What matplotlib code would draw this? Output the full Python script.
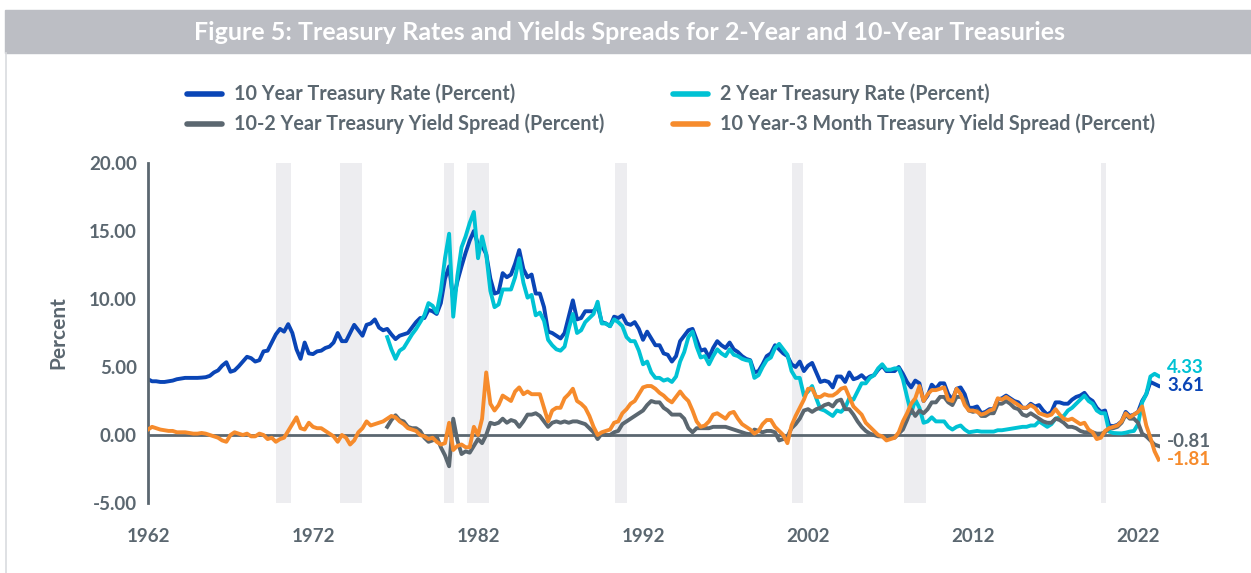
import numpy as np
import pandas as pd
import matplotlib
matplotlib.use('Agg')
import matplotlib.pyplot as plt
from matplotlib.lines import Line2D
from matplotlib.patches import Rectangle

plt.rcParams['font.family'] = ['Lato', 'DejaVu Sans']

# quarterly readings (start of each quarter)
start_long = '1962-01-01'
start_2y = '1976-07-01'

rate_10y = [
    4.10, 3.95, 3.95, 3.90,  # 1962
    3.90, 3.95, 4.00, 4.10,
    4.15, 4.20, 4.20, 4.20,
    4.20, 4.22, 4.25, 4.35,
    4.60, 4.75, 5.10, 5.35,
    4.65, 4.75, 5.05, 5.40,
    5.75, 5.65, 5.40, 5.50,
    6.15, 6.20, 6.80, 7.40,
    7.80, 7.60, 8.15, 7.50,  # 1970
    6.30, 5.60, 6.80, 6.00,
    5.95, 6.15, 6.20, 6.40,
    6.50, 6.80, 7.50, 6.90,
    6.90, 7.50, 8.10, 7.70,
    7.30, 8.10, 8.20, 8.50,
    7.90, 7.70, 7.80, 7.40,
    7.05, 7.30, 7.40, 7.50,
    7.90, 8.30, 8.60, 8.60,
    9.20, 9.10, 8.90, 9.70,
    11.5, 12.4, 9.90, 11.3,  # 1980
    12.4, 13.4, 14.3, 15.0,
    14.0, 13.9, 13.3, 11.5,
    10.4, 10.5, 11.9, 11.6,
    11.8, 12.6, 13.6, 12.2,
    11.6, 11.8, 10.4, 10.4,
    9.40, 7.60, 7.50, 7.30,
    7.10, 7.50, 8.70, 9.90,
    8.50, 8.60, 9.10, 9.10,
    9.10, 9.50, 8.30, 8.20,
    8.00, 8.70, 8.60, 8.80,  # 1990
    8.20, 8.10, 8.30, 7.80,
    7.00, 7.60, 7.10, 6.60,
    6.60, 6.00, 5.90, 5.40,
    5.80, 6.90, 7.30, 7.70,
    7.80, 7.00, 6.20, 6.30,
    5.70, 6.40, 6.90, 6.60,
    6.40, 6.80, 6.30, 6.10,
    5.80, 5.60, 5.50, 4.60,
    4.70, 5.20, 5.80, 6.00,
    6.60, 6.30, 6.00, 5.80,  # 2000
    5.20, 5.00, 5.40, 4.70,
    5.10, 5.30, 4.60, 3.90,
    4.00, 3.90, 3.50, 4.30,
    4.30, 3.90, 4.60, 4.10,
    4.20, 4.40, 4.10, 4.30,
    4.40, 4.80, 5.10, 4.70,
    4.70, 4.70, 5.00, 4.50,
    3.90, 3.50, 4.00, 3.80,
    2.50, 2.90, 3.70, 3.40,
    3.80, 3.80, 3.00, 2.60,  # 2010
    3.40, 3.50, 3.00, 2.00,
    2.00, 2.10, 1.60, 1.70,
    1.90, 1.90, 2.60, 2.70,
    2.90, 2.70, 2.50, 2.40,
    2.00, 2.00, 2.30, 2.10,
    2.20, 1.80, 1.50, 1.70,
    2.40, 2.40, 2.30, 2.30,
    2.60, 2.80, 2.90, 3.10,
    2.70, 2.50, 2.00, 1.70,
    1.80, 0.70, 0.65, 0.75,  # 2020
    1.00, 1.70, 1.40, 1.50,
    1.70, 2.50, 3.00, 3.90,
    3.75, 3.61,
]

rate_2y = [
    7.20, 6.30,  # 1976
    5.60, 6.20, 6.40, 6.90,
    7.40, 7.80, 8.30, 8.80,
    9.70, 9.50, 9.00, 10.6,
    13.0, 14.8, 8.70, 11.7,  # 1980
    13.8, 14.6, 15.6, 16.4,
    13.0, 14.6, 13.3, 10.6,
    9.40, 9.60, 10.7, 10.7,
    10.7, 11.6, 13.0, 11.2,
    10.1, 10.3, 8.80, 9.00,
    8.40, 7.00, 6.60, 6.30,
    6.20, 6.50, 7.80, 8.90,
    7.50, 7.70, 8.30, 8.60,
    8.90, 9.80, 8.20, 8.20,
    8.00, 8.50, 8.30, 8.00,  # 1990
    7.20, 6.90, 6.90, 6.20,
    5.20, 5.40, 4.60, 4.20,
    4.20, 4.00, 4.10, 3.90,
    4.30, 5.40, 6.10, 7.20,
    7.60, 6.50, 5.70, 5.80,
    5.20, 5.80, 6.30, 6.00,
    5.80, 6.30, 5.90, 5.80,
    5.60, 5.50, 5.45, 4.20,
    4.40, 5.00, 5.50, 5.70,
    6.40, 6.70, 6.30, 5.90,  # 2000
    4.70, 4.20, 4.20, 2.90,
    3.20, 3.60, 2.70, 1.90,
    1.80, 1.60, 1.40, 1.80,
    1.70, 2.00, 2.70, 2.60,
    3.20, 3.80, 3.80, 4.20,
    4.40, 4.90, 5.20, 4.80,
    4.80, 4.90, 4.90, 4.10,
    2.80, 1.60, 2.60, 2.00,
    0.90, 1.00, 1.30, 1.00,
    1.00, 1.00, 0.60, 0.40,  # 2010
    0.60, 0.70, 0.40, 0.20,
    0.25, 0.30, 0.25, 0.25,
    0.25, 0.25, 0.35, 0.35,
    0.40, 0.45, 0.50, 0.55,
    0.60, 0.60, 0.70, 0.70,
    1.00, 0.80, 0.60, 0.80,
    1.20, 1.30, 1.40, 1.80,
    2.00, 2.30, 2.60, 2.90,
    2.50, 2.30, 1.80, 1.60,
    1.60, 0.25, 0.15, 0.13,  # 2020
    0.12, 0.17, 0.25, 0.30,
    0.80, 2.40, 3.00, 4.30,
    4.50, 4.33,
]

spread_10_2 = [
    0.60, 1.10,  # 1976
    1.45, 1.10, 1.00, 0.60,
    0.50, 0.50, 0.30, -0.20,
    -0.50, -0.40, -0.10, -0.90,
    -1.50, -2.30, 1.20, -0.40,  # 1980
    -1.40, -1.20, -1.30, -0.80,
    -0.30, -0.60, 0.00, 0.90,
    0.80, 0.90, 1.20, 0.90,
    1.10, 1.00, 0.60, 1.00,
    1.50, 1.50, 1.60, 1.40,
    1.00, 0.60, 0.90, 1.00,
    0.90, 1.00, 0.90, 1.00,
    1.00, 0.90, 0.80, 0.50,
    0.20, -0.30, 0.10, 0.00,
    0.00, 0.20, 0.30, 0.80,  # 1990
    1.00, 1.20, 1.40, 1.60,
    1.80, 2.20, 2.50, 2.40,
    2.40, 2.00, 1.80, 1.50,
    1.50, 1.50, 1.20, 0.50,
    0.20, 0.50, 0.50, 0.50,
    0.50, 0.60, 0.60, 0.60,
    0.60, 0.50, 0.40, 0.30,
    0.20, 0.10, 0.05, 0.40,
    0.30, 0.20, 0.30, 0.30,
    0.20, -0.40, -0.30, -0.10,  # 2000
    0.50, 0.80, 1.20, 1.80,
    1.90, 1.70, 1.90, 2.00,
    2.20, 2.30, 2.10, 2.50,
    2.60, 1.90, 1.90, 1.50,
    1.00, 0.60, 0.30, 0.10,
    0.00, -0.10, -0.10, -0.10,
    -0.10, -0.20, 0.10, 0.40,
    1.10, 1.90, 1.40, 1.80,
    1.60, 1.90, 2.40, 2.40,
    2.80, 2.80, 2.40, 2.20,  # 2010
    2.80, 2.80, 2.60, 1.80,
    1.70, 1.80, 1.40, 1.40,
    1.60, 1.60, 2.30, 2.30,
    2.50, 2.30, 2.00, 1.90,
    1.50, 1.40, 1.60, 1.40,
    1.20, 1.00, 0.90, 0.90,
    1.20, 1.10, 0.90, 0.60,
    0.60, 0.50, 0.30, 0.20,
    0.20, 0.20, 0.10, 0.10,
    0.20, 0.50, 0.50, 0.60,  # 2020
    0.90, 1.50, 1.20, 1.20,
    0.90, 0.10, -0.10, -0.40,
    -0.70, -0.81,
]

spread_10_3m = [
    0.40, 0.60, 0.50, 0.40,  # 1962
    0.35, 0.30, 0.30, 0.20,
    0.20, 0.20, 0.15, 0.10,
    0.10, 0.15, 0.10, 0.00,
    -0.10, -0.20, -0.40, -0.50,
    0.00, 0.20, 0.10, 0.00,
    0.10, -0.10, -0.10, 0.10,
    0.00, -0.30, -0.20, -0.50,
    -0.30, -0.20, 0.30, 0.80,  # 1970
    1.30, 0.50, 0.40, 0.90,
    0.60, 0.50, 0.50, 0.30,
    0.10, -0.10, -0.50, 0.00,
    -0.20, -0.70, -0.40, 0.20,
    0.50, 1.00, 0.70, 0.80,
    0.90, 1.00, 1.20, 1.40,
    1.30, 1.00, 0.80, 0.50,
    0.40, 0.30, 0.00, -0.10,
    -0.30, -0.20, -0.50, -0.70,
    -0.60, 0.90, -1.10, -0.80,  # 1980
    -0.70, -0.90, -0.90, 0.60,
    0.00, 1.20, 4.60, 2.30,
    1.80, 2.20, 2.90, 2.70,
    2.50, 3.20, 3.50, 3.00,
    3.20, 3.00, 3.00, 3.00,
    2.00, 1.00, 1.80, 2.00,
    2.00, 2.70, 3.00, 3.40,
    2.50, 2.30, 2.00, 1.40,
    0.60, 0.00, 0.20, 0.30,
    0.40, 0.90, 1.00, 1.60,  # 1990
    1.90, 2.30, 2.50, 3.00,
    3.50, 3.60, 3.60, 3.40,
    3.10, 2.90, 2.60, 2.40,
    2.80, 3.20, 2.80, 2.50,
    1.80, 1.00, 0.60, 0.70,
    1.00, 1.50, 1.60, 1.40,
    1.20, 1.60, 1.70, 1.20,
    0.80, 0.60, 0.40, 0.10,
    0.30, 0.80, 1.10, 1.10,
    0.60, 0.30, 0.00, -0.60,  # 2000
    0.70, 1.40, 2.00, 2.60,
    3.40, 3.40, 2.80, 2.80,
    3.00, 2.90, 2.90, 3.10,
    3.40, 3.50, 2.80, 2.10,
    1.80, 1.50, 0.90, 0.60,
    0.30, 0.00, -0.10, -0.40,
    -0.30, -0.20, 0.20, 1.00,
    1.60, 2.30, 2.70, 3.60,
    2.50, 3.00, 3.30, 3.30,
    3.40, 3.50, 2.60, 2.50,  # 2010
    3.40, 3.00, 2.20, 1.80,
    1.80, 1.70, 1.50, 1.60,
    1.80, 1.90, 2.70, 2.60,
    2.80, 2.60, 2.40, 2.20,
    2.00, 2.00, 2.20, 2.00,
    1.60, 1.50, 1.40, 1.50,
    1.90, 1.50, 1.20, 1.10,
    1.20, 1.00, 0.80, 0.90,
    0.40, 0.20, -0.30, -0.20,
    0.30, 0.50, 0.60, 0.70,  # 2020
    1.00, 1.60, 1.30, 1.50,
    1.70, 2.10, 0.70, -0.20,
    -1.20, -1.81,
]

recessions = [
    ('1969-10-05', '1970-09-01'), ('1973-08-20', '1974-12-20'),
    ('1979-12-10', '1980-07-20'), ('1981-05-01', '1982-09-01'),
    ('1990-04-20', '1991-01-01'), ('2001-01-01', '2001-09-01'),
    ('2007-10-20', '2009-03-01'), ('2019-10-05', '2020-01-20'),
]

tick_years = ['1962', '1972', '1982', '1992', '2002', '2012', '2022']
y_ticks = [-5, 0, 5, 10, 15, 20]

BLUE = '#0a45b6'
CYAN = '#00c2d4'
GRAY = '#5b6770'
ORANGE = '#f68b2c'
TEXT = '#5b6770'
BAND = '#ededf0'
BANNER = '#bcbec4'

d_long = pd.date_range(start_long, periods=len(rate_10y), freq='QS')
d_2y = pd.date_range(start_2y, periods=len(rate_2y), freq='QS')

W, H = 1251, 573
fig = plt.figure(figsize=(W / 100, H / 100), dpi=100)

# header banner
fig.patches.append(Rectangle((5 / W, 1 - 53 / H), 1 - 5 / W, 43 / H,
                             transform=fig.transFigure, color=BANNER, zorder=0))
fig.text(630 / W, 1 - 33 / H,
         'Figure 5: Treasury Rates and Yields Spreads for 2-Year and 10-Year Treasuries',
         ha='center', va='center', color='white', fontsize=18, fontweight='bold')
fig.add_artist(Line2D([5.5 / W, 5.5 / W], [0, 1 - 53 / H], transform=fig.transFigure,
                      color='#d9dbdf', lw=1.2))

# legend drawn by hand
legend = [
    (187, 94, BLUE, '10 Year Treasury Rate (Percent)'),
    (673, 94, CYAN, '2 Year Treasury Rate (Percent)'),
    (187, 124, GRAY, '10-2 Year Treasury Yield Spread (Percent)'),
    (673, 124, ORANGE, '10 Year-3 Month Treasury Yield Spread (Percent)'),
]
for lx, ly, col, lab in legend:
    fig.add_artist(Line2D([lx / W, (lx + 35) / W], [1 - ly / H, 1 - ly / H],
                          transform=fig.transFigure, color=col, lw=4,
                          solid_capstyle='round'))
    fig.text((lx + 47) / W, 1 - ly / H, lab, ha='left', va='center',
             color=TEXT, fontsize=14.2, fontweight='bold')

ax = fig.add_axes([148 / W, 70 / H, 1012 / W, 340 / H])

for a, b in recessions:
    ax.axvspan(pd.Timestamp(a), pd.Timestamp(b), color=BAND, lw=0, zorder=0)

ax.axhline(0, color=GRAY, lw=2, zorder=1)

ax.plot(d_long, rate_10y, color=BLUE, lw=2.8, zorder=2)
ax.plot(d_2y, rate_2y, color=CYAN, lw=2.8, zorder=3)
ax.plot(d_2y, spread_10_2, color=GRAY, lw=2.8, zorder=4)
ax.plot(d_long, spread_10_3m, color=ORANGE, lw=2.8, zorder=5)

# end labels
ends = [
    (d_2y[-1], rate_2y[-1], CYAN, 6),
    (d_long[-1], rate_10y[-1], BLUE, 0),
    (d_2y[-1], spread_10_2[-1], GRAY, 3),
    (d_long[-1], spread_10_3m[-1], ORANGE, 0),
]
for x, v, col, dy in ends:
    ax.annotate('%.2f' % v, (x, v), xytext=(6, dy), textcoords='offset points',
                ha='left', va='center', color=col, fontsize=13.5,
                fontweight='bold', annotation_clip=False)

ax.set_xlim(pd.Timestamp('1962-01-01'), pd.Timestamp('2023-05-01'))
ax.set_ylim(-5, 20)
for s in ['top', 'right', 'bottom']:
    ax.spines[s].set_visible(False)
ax.spines['left'].set_color(GRAY)
ax.spines['left'].set_linewidth(2)

ax.set_xticks([pd.Timestamp(y + '-01-01') for y in tick_years])
ax.set_xticklabels(tick_years)
ax.set_yticks(y_ticks)
ax.set_yticklabels(['%.2f' % t for t in y_ticks])
ax.tick_params(axis='x', length=0, pad=18, labelsize=13.5, labelcolor=TEXT)
ax.tick_params(axis='y', length=0, pad=8, labelsize=13.5, labelcolor=TEXT)
for t in ax.get_xticklabels() + ax.get_yticklabels():
    t.set_fontweight('bold')

fig.text(58 / W, 1 - 333 / H, 'Percent', rotation=90, ha='center', va='center',
         color=TEXT, fontsize=15, fontweight='bold')

fig.savefig('out.png', dpi=100)
